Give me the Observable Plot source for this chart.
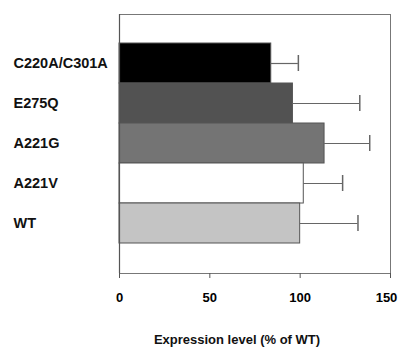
<!DOCTYPE html>
<html>
<head>
<meta charset="utf-8">
<script src="https://cdn.jsdelivr.net/npm/d3@7"></script>
<script src="https://cdn.jsdelivr.net/npm/@observablehq/plot@0.6"></script>
<style>
  body { margin: 0; background: #fff; }
  svg { font-family: "Liberation Sans", Arial, sans-serif; }
</style>
</head>
<body>
<div id="chart"></div>
<script>
const categories = ["C220A/C301A", "E275Q", "A221G", "A221V", "WT"];
const values = [84, 96, 113.5, 102, 100];
const errors = [15, 37, 25, 21.5, 32];
const colors = ["#000000", "#525252", "#747474", "#ffffff", "#c4c4c4"];
const xTicks = [0, 50, 100, 150];
const xLabel = "Expression level (% of WT)";

const data = categories.map((c, i) => ({cat: c, value: values[i], err: errors[i], color: colors[i]}));

const chart = Plot.plot({
  width: 399,
  height: 350,
  marginLeft: 119,
  marginRight: 9,
  marginTop: 14,
  marginBottom: 77,
  x: {domain: [0, 150], ticks: xTicks},
  y: {domain: categories, range: [43, 243], padding: 0},
  style: {fontFamily: "'Liberation Sans', Arial, sans-serif", background: "#fff"},
  marks: [
    Plot.frame({stroke: "#777", strokeWidth: 1}),
    Plot.barX(data, {y: "cat", x: "value", fill: d => d.color, stroke: "#555", strokeWidth: 1}),
    Plot.ruleY(data, {y: "cat", x1: "value", x2: d => d.value + d.err, stroke: "#666", strokeWidth: 1.2}),
    Plot.tickX(data, {y: "cat", x: d => d.value + d.err, stroke: "#666", strokeWidth: 1.5, insetTop: 12, insetBottom: 12}),
    Plot.ruleX([0], {stroke: "#555", strokeWidth: 1.2}),
    Plot.axisX({ticks: xTicks, tickSize: 5, text: null, stroke: "#555", label: null}),
    Plot.axisX({ticks: xTicks.slice(0, 3), tickSize: 0, tickPadding: 19, fontSize: 13, fontWeight: "bold", color: "#000", label: null}),
    Plot.axisX({ticks: xTicks.slice(3), tickSize: 0, tickPadding: 19, dx: -4, fontSize: 13, fontWeight: "bold", color: "#000", label: null}),
    Plot.axisY({ticks: [], label: null, tickSize: 0}),
    Plot.text(categories, {y: d => d, frameAnchor: "left", textAnchor: "start", dx: -106, fontSize: 14.5, fontWeight: "bold", fill: "#111"}),
    Plot.text([xLabel], {frameAnchor: "bottom", dy: 70, dx: -18, fontSize: 13, fontWeight: "bold", fill: "#111"})
  ]
});
document.getElementById("chart").appendChild(chart);
</script>
</body>
</html>
